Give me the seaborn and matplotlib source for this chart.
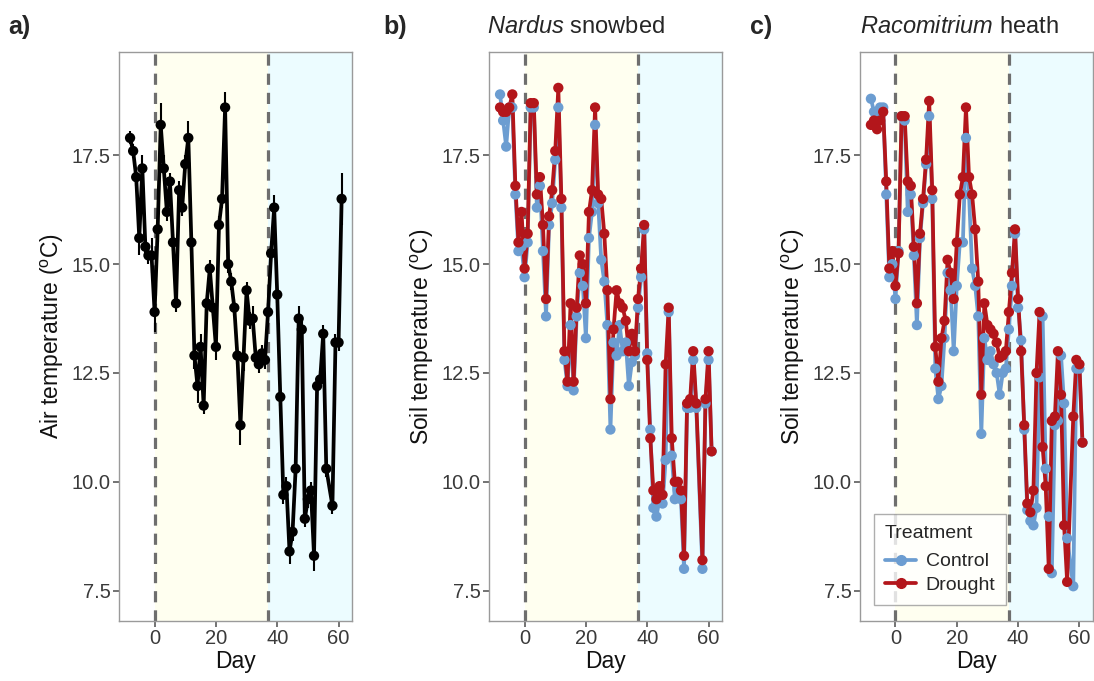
import matplotlib
matplotlib.use("Agg")
import matplotlib.pyplot as plt
from matplotlib.lines import Line2D
import pandas as pd
import seaborn as sns

# sampling days (day 57 missing)
days = list(range(-8, 57)) + [58, 59, 60, 61]

air_temp = [17.9, 17.6, 17.0, 15.6, 17.2, 15.4, 15.2, 15.2, 13.9, 15.8,
            18.2, 17.2, 16.2, 16.9, 15.5, 14.1, 16.7, 16.3, 17.3, 17.9,
            15.5, 12.9, 12.2, 13.1, 11.75, 14.1, 14.9, 14.0, 13.1, 15.9,
            16.5, 18.6, 15.0, 14.6, 14.0, 12.9, 11.3, 12.85, 14.4, 13.7,
            13.75, 12.85, 12.7, 12.95, 12.8, 13.9, 15.25, 16.3, 14.3, 11.95,
            9.7, 9.9, 8.4, 8.85, 10.3, 13.75, 13.5, 9.15, 9.6, 9.8,
            8.3, 12.2, 12.35, 13.4, 10.3, 9.45, 13.2, 13.2, 16.5]
air_se = [0.15, 0.15, 0.2, 0.4, 0.3, 0.2, 0.2, 0.4, 0.45, 0.3,
          0.5, 0.3, 0.2, 0.2, 0.2, 0.2, 0.2, 0.2, 0.2, 0.4,
          0.2, 0.3, 0.4, 0.3, 0.2, 0.2, 0.2, 0.2, 0.3, 0.2,
          0.2, 0.35, 0.2, 0.2, 0.2, 0.2, 0.45, 0.3, 0.2, 0.2,
          0.3, 0.2, 0.2, 0.2, 0.2, 0.2, 0.2, 0.3, 0.2, 0.2,
          0.2, 0.2, 0.3, 0.2, 0.2, 0.3, 0.2, 0.2, 0.2, 0.2,
          0.35, 0.2, 0.2, 0.2, 0.2, 0.2, 0.2, 0.2, 0.6]

nardus_control = [18.9, 18.3, 17.7, 18.6, 18.6, 16.6, 15.3, 15.4, 14.7, 15.5,
                  18.6, 18.6, 16.3, 16.8, 15.3, 13.8, 15.9, 16.4, 17.4, 18.6,
                  16.3, 12.8, 12.2, 13.6, 12.1, 13.8, 14.8, 14.5, 13.3, 15.6,
                  16.2, 18.2, 16.4, 15.1, 14.6, 13.6, 11.2, 13.2, 12.9, 13.6,
                  13.0, 13.2, 12.2, 12.75, 12.9, 14.0, 14.7, 15.8, 12.95, 11.2,
                  9.4, 9.2, 9.6, 9.5, 10.5, 13.9, 10.6, 9.6, 9.8, 9.6,
                  8.0, 11.7, 11.7, 12.8, 11.7, 8.0, 11.8, 12.8, 10.7]
nardus_drought = [18.6, 18.5, 18.5, 18.6, 18.9, 16.8, 15.5, 16.2, 14.9, 15.7,
                  18.7, 18.7, 16.6, 17.0, 15.9, 14.2, 16.1, 16.7, 17.6, 19.05,
                  16.5, 13.0, 12.3, 14.1, 12.3, 14.0, 15.2, 15.0, 14.1, 16.2,
                  16.7, 18.6, 16.6, 16.5, 15.7, 14.4, 11.9, 13.5, 14.4, 14.1,
                  14.0, 13.7, 13.0, 13.4, 13.0, 14.2, 14.9, 15.9, 12.8, 11.0,
                  9.8, 9.6, 9.9, 9.7, 12.7, 14.0, 11.0, 10.0, 10.0, 9.8,
                  8.3, 11.8, 11.9, 13.0, 11.8, 8.2, 11.9, 13.0, 10.7]

racomitrium_control = [18.8, 18.5, 18.3, 18.6, 18.6, 16.6, 14.7, 15.0, 14.2, 15.3,
                       18.4, 18.3, 16.2, 16.6, 15.2, 13.6, 15.6, 16.4, 17.3, 18.4,
                       16.5, 12.6, 11.9, 12.2, 13.3, 14.8, 14.4, 13.0, 14.5, 15.5,
                       15.5, 17.9, 16.6, 14.9, 14.5, 13.8, 11.1, 13.3, 12.8, 13.0,
                       12.7, 12.5, 12.0, 12.5, 12.6, 13.5, 14.5, 15.7, 14.0, 13.25,
                       11.2, 9.35, 9.1, 9.0, 9.4, 12.4, 13.8, 10.3, 9.2, 7.9,
                       11.3, 11.4, 12.9, 11.8, 8.7, 7.6, 12.6, 12.6, 10.9]
racomitrium_drought = [18.2, 18.3, 18.1, 18.3, 18.5, 16.9, 14.9, 15.3, 14.5, 15.25,
                       18.4, 18.4, 16.9, 16.8, 15.4, 14.1, 15.7, 16.5, 17.4, 18.75,
                       16.7, 13.1, 12.3, 13.3, 13.7, 15.1, 14.8, 14.2, 15.5, 16.6,
                       17.0, 18.6, 17.0, 16.6, 15.8, 14.6, 12.0, 14.1, 13.6, 13.5,
                       13.4, 13.2, 12.85, 12.9, 13.0, 13.9, 14.8, 15.8, 14.2, 13.0,
                       11.3, 9.5, 9.3, 9.8, 12.5, 13.9, 10.8, 9.9, 8.0, 11.4,
                       11.5, 13.0, 12.0, 9.0, 7.7, 11.5, 12.8, 12.7, 10.9]

treatments = ["Control", "Drought"]
palette = {"Control": "#6c9dd1", "Drought": "#b3161b"}

sns.set_theme(style="white")
plt.rcParams["font.family"] = ["Liberation Sans", "DejaVu Sans"]
plt.rcParams["mathtext.fontset"] = "custom"
plt.rcParams["mathtext.rm"] = "Liberation Sans"
plt.rcParams["mathtext.it"] = "Liberation Sans:italic"

fig = plt.figure(figsize=(10.94, 6.81), dpi=100)
lefts = [0.1088, 0.447, 0.786]
axes = [fig.add_axes([l, 0.088, 0.213, 0.836]) for l in lefts]

LW = 2.7
MS = 55


def decorate(ax, ylabel):
    ax.axvspan(0, 37, color="#fffff0", zorder=0, lw=0)
    ax.axvspan(37, 70, color="#ecfcff", zorder=0, lw=0)
    for xv in (0, 37):
        ax.axvline(xv, color="#6e6e6e", lw=2.3, ls=(0, (3.5, 2.5)), zorder=1)
    ax.set_xlim(-11.6, 64.4)
    ax.set_ylim(6.8, 19.88)
    ax.set_xticks([0, 20, 40, 60])
    ax.set_yticks([7.5, 10.0, 12.5, 15.0, 17.5])
    ax.set_yticklabels(["7.5", "10.0", "12.5", "15.0", "17.5"])
    ax.tick_params(axis="both", direction="out", length=4, width=1.1,
                   color="#4d4d4d", labelsize=14.5, labelcolor="#3a3a3a", pad=2,
                   bottom=True, left=True)
    for sp in ax.spines.values():
        sp.set_color("#9a9a9a")
        sp.set_linewidth(1)
    ax.set_xlabel("Day", fontsize=16.5, color="#111111", labelpad=1)
    ax.set_ylabel(ylabel, fontsize=16.5, color="#111111", labelpad=4)
    ax.grid(False)


# panel a: air temperature
ax = axes[0]
lo = [t - s for t, s in zip(air_temp, air_se)]
hi = [t + s for t, s in zip(air_temp, air_se)]
ax.vlines(days, lo, hi, color="black", lw=1.5, zorder=2)
sns.lineplot(x=days, y=air_temp, color="black", lw=LW, ax=ax, zorder=3)
sns.scatterplot(x=days, y=air_temp, color="black", s=MS, edgecolor="none",
                ax=ax, zorder=4)
decorate(ax, "Air temperature ($^{\\mathrm{o}}$C)")

# panels b and c: soil temperature
soil = [(nardus_control, nardus_drought), (racomitrium_control, racomitrium_drought)]
for ax, (ctrl, drt) in zip(axes[1:], soil):
    df = pd.DataFrame({
        "Day": days + days,
        "Temp": ctrl + drt,
        "Treatment": ["Control"] * len(days) + ["Drought"] * len(days),
    })
    sns.lineplot(data=df, x="Day", y="Temp", hue="Treatment", palette=palette,
                 hue_order=treatments, lw=LW, errorbar=None, legend=False,
                 ax=ax, zorder=3)
    sns.scatterplot(data=df, x="Day", y="Temp", hue="Treatment", palette=palette,
                    hue_order=treatments, s=MS, edgecolor="none", legend=False,
                    ax=ax, zorder=4)
    decorate(ax, "Soil temperature ($^{\\mathrm{o}}$C)")

handles = [Line2D([], [], color=palette[t], lw=LW, marker="o", markersize=7)
           for t in treatments]
leg = axes[2].legend(handles, treatments, title="Treatment", loc="lower left",
                     bbox_to_anchor=(0.02, 0.012), fontsize=14, title_fontsize=14,
                     frameon=True, fancybox=False, handlelength=1.6,
                     borderpad=0.55, labelspacing=0.3, handletextpad=0.5)
leg.get_frame().set_edgecolor("#9a9a9a")
leg.get_frame().set_facecolor("white")
leg._legend_box.align = "left"
leg._legend_box.sep = 8

# panel letters and titles
for x, letter in zip([8, 383, 750], ["a)", "b)", "c)"]):
    fig.text(x / 1094, 1 - 27 / 681, letter, fontsize=18, fontweight="bold",
             va="center", ha="left")
fig.text(487 / 1094, 1 - 27 / 681, "$\\it{Nardus}$ snowbed", fontsize=17,
         va="center", ha="left")
fig.text(860 / 1094, 1 - 27 / 681, "$\\it{Racomitrium}$ heath", fontsize=17,
         va="center", ha="left")

fig.savefig("out.png", dpi=100)
